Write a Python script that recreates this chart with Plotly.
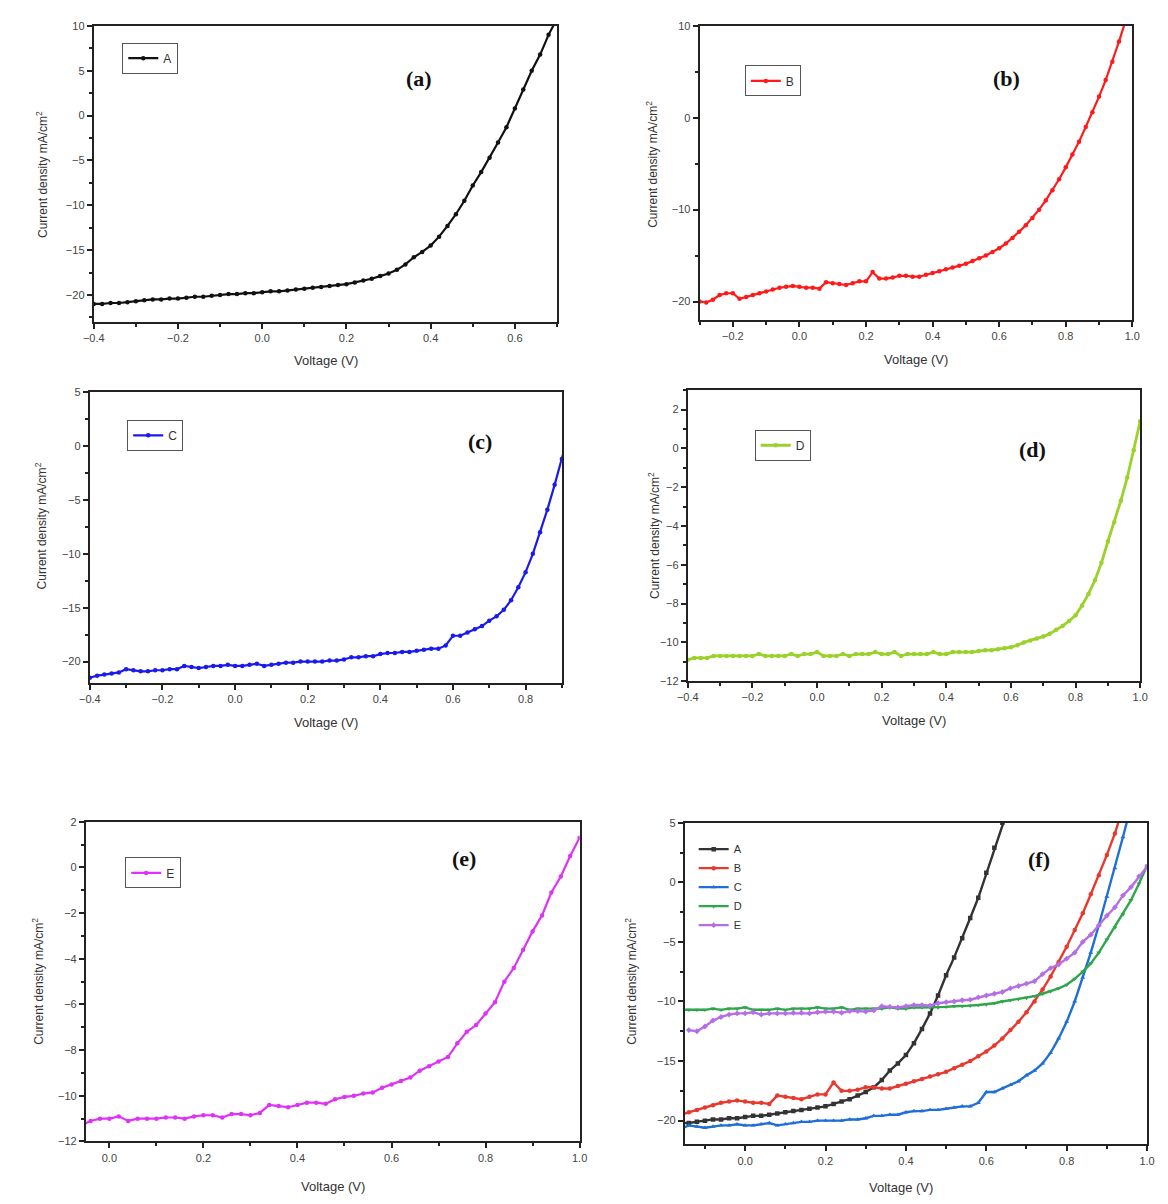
import plotly.graph_objects as go

# ---------------- data ----------------
V_A = [-0.40, -0.38, -0.36, -0.34, -0.32, -0.30, -0.28, -0.26, -0.24, -0.22, -0.20, -0.18, -0.16, -0.14,
       -0.12, -0.10, -0.08, -0.06, -0.04, -0.02, 0.00, 0.02, 0.04, 0.06, 0.08, 0.10, 0.12, 0.14, 0.16,
       0.18, 0.20, 0.22, 0.24, 0.26, 0.28, 0.30, 0.32, 0.34, 0.36, 0.38, 0.40, 0.42, 0.44, 0.46, 0.48,
       0.50, 0.52, 0.54, 0.56, 0.58, 0.60, 0.62, 0.64, 0.66, 0.68, 0.70]
J_A = [-21.0, -21.0, -20.9, -20.9, -20.8, -20.7, -20.6, -20.5, -20.5, -20.4, -20.4, -20.3, -20.2, -20.2,
       -20.1, -20.0, -19.9, -19.9, -19.8, -19.8, -19.7, -19.6, -19.6, -19.5, -19.4, -19.3, -19.2, -19.1, -19.0,
       -18.9, -18.8, -18.6, -18.4, -18.2, -17.9, -17.6, -17.2, -16.6, -15.8, -15.2, -14.5, -13.5, -12.3, -11.0, -9.5,
       -7.8, -6.3, -4.7, -3.0, -1.3, 0.8, 2.9, 5.0, 6.8, 9.0, 10.8]

V_B = [-0.30, -0.28, -0.26, -0.24, -0.22, -0.20, -0.18, -0.16, -0.14, -0.12, -0.10, -0.08, -0.06, -0.04,
       -0.02, 0.00, 0.02, 0.04, 0.06, 0.08, 0.10, 0.12, 0.14, 0.16, 0.18, 0.20, 0.22, 0.24, 0.26, 0.28,
       0.30, 0.32, 0.34, 0.36, 0.38, 0.40, 0.42, 0.44, 0.46, 0.48, 0.50, 0.52, 0.54, 0.56, 0.58, 0.60,
       0.62, 0.64, 0.66, 0.68, 0.70, 0.72, 0.74, 0.76, 0.78, 0.80, 0.82, 0.84, 0.86, 0.88, 0.90, 0.92,
       0.94, 0.96, 0.98, 1.00]
J_B = [-20.0, -20.1, -19.8, -19.3, -19.1, -19.1, -19.7, -19.5, -19.3, -19.1, -18.9, -18.7, -18.5, -18.4,
       -18.3, -18.4, -18.5, -18.5, -18.6, -17.9, -18.0, -18.1, -18.2, -18.0, -17.8, -17.8, -16.8, -17.5, -17.5, -17.4,
       -17.2, -17.2, -17.3, -17.3, -17.1, -16.9, -16.7, -16.5, -16.3, -16.1, -15.9, -15.6, -15.3, -15.0, -14.6, -14.2,
       -13.7, -13.1, -12.4, -11.7, -10.9, -10.0, -9.0, -7.9, -6.7, -5.4, -4.0, -2.6, -1.0, 0.6, 2.3, 4.1,
       6.1, 8.3, 10.6, 13.0]

V_C = [-0.40, -0.38, -0.36, -0.34, -0.32, -0.30, -0.28, -0.26, -0.24, -0.22, -0.20, -0.18, -0.16, -0.14,
       -0.12, -0.10, -0.08, -0.06, -0.04, -0.02, 0.00, 0.02, 0.04, 0.06, 0.08, 0.10, 0.12, 0.14, 0.16,
       0.18, 0.20, 0.22, 0.24, 0.26, 0.28, 0.30, 0.32, 0.34, 0.36, 0.38, 0.40, 0.42, 0.44, 0.46, 0.48,
       0.50, 0.52, 0.54, 0.56, 0.58, 0.60, 0.62, 0.64, 0.66, 0.68, 0.70, 0.72, 0.74, 0.76, 0.78, 0.80,
       0.82, 0.84, 0.86, 0.88, 0.90, 0.92, 0.94, 0.96]
J_C = [-21.5, -21.3, -21.2, -21.1, -21.0, -20.7, -20.8, -20.9, -20.9, -20.8, -20.8, -20.7, -20.7, -20.4,
       -20.5, -20.6, -20.5, -20.4, -20.4, -20.3, -20.4, -20.4, -20.3, -20.2, -20.4, -20.3, -20.2, -20.1, -20.1,
       -20.0, -20.0, -20.0, -20.0, -19.9, -19.9, -19.8, -19.6, -19.6, -19.5, -19.5, -19.3, -19.2, -19.2, -19.1, -19.1,
       -19.0, -18.9, -18.8, -18.8, -18.5, -17.6, -17.6, -17.3, -17.0, -16.7, -16.2, -15.8, -15.2, -14.3, -13.1, -11.7,
       -10.0, -8.0, -5.9, -3.6, -1.2, 1.2, 3.8, 6.4]

V_D = [-0.40, -0.38, -0.36, -0.34, -0.32, -0.30, -0.28, -0.26, -0.24, -0.22, -0.20, -0.18, -0.16, -0.14,
       -0.12, -0.10, -0.08, -0.06, -0.04, -0.02, 0.00, 0.02, 0.04, 0.06, 0.08, 0.10, 0.12, 0.14, 0.16,
       0.18, 0.20, 0.22, 0.24, 0.26, 0.28, 0.30, 0.32, 0.34, 0.36, 0.38, 0.40, 0.42, 0.44, 0.46, 0.48,
       0.50, 0.52, 0.54, 0.56, 0.58, 0.60, 0.62, 0.64, 0.66, 0.68, 0.70, 0.72, 0.74, 0.76, 0.78, 0.80,
       0.82, 0.84, 0.86, 0.88, 0.90, 0.92, 0.94, 0.96, 0.98, 1.00]
J_D = [-10.9, -10.8, -10.8, -10.8, -10.7, -10.7, -10.7, -10.7, -10.7, -10.7, -10.7, -10.6, -10.7, -10.7,
       -10.7, -10.7, -10.6, -10.7, -10.6, -10.6, -10.5, -10.7, -10.7, -10.7, -10.6, -10.7, -10.6, -10.6, -10.6,
       -10.5, -10.6, -10.6, -10.5, -10.7, -10.6, -10.6, -10.6, -10.6, -10.5, -10.6, -10.6, -10.5, -10.5, -10.5, -10.5,
       -10.45, -10.4, -10.4, -10.35, -10.3, -10.25, -10.15, -10.0, -9.9, -9.8, -9.7, -9.55, -9.35, -9.15, -8.9, -8.6,
       -8.1, -7.5, -6.8, -5.9, -4.8, -3.8, -2.7, -1.5, -0.1, 1.4]

V_E = [-0.14, -0.12, -0.10, -0.08, -0.06, -0.04, -0.02, 0.00, 0.02, 0.04, 0.06, 0.08, 0.10, 0.12, 0.14,
       0.16, 0.18, 0.20, 0.22, 0.24, 0.26, 0.28, 0.30, 0.32, 0.34, 0.36, 0.38, 0.40, 0.42, 0.44, 0.46,
       0.48, 0.50, 0.52, 0.54, 0.56, 0.58, 0.60, 0.62, 0.64, 0.66, 0.68, 0.70, 0.72, 0.74, 0.76, 0.78,
       0.80, 0.82, 0.84, 0.86, 0.88, 0.90, 0.92, 0.94, 0.96, 0.98, 1.00]
J_E = [-12.4, -12.5, -12.1, -11.6, -11.3, -11.1, -11.0, -11.0, -10.9, -11.1, -11.0, -11.0, -11.0, -10.95, -10.95,
       -11.0, -10.9, -10.85, -10.85, -10.95, -10.8, -10.8, -10.85, -10.75, -10.4, -10.45, -10.5, -10.4, -10.3, -10.3, -10.35,
       -10.15, -10.05, -10.0, -9.9, -9.85, -9.65, -9.5, -9.35, -9.2, -8.9, -8.7, -8.5, -8.3, -7.7, -7.2, -6.9,
       -6.4, -5.9, -5.0, -4.4, -3.6, -2.8, -2.1, -1.1, -0.4, 0.5, 1.3]

NAMES = ["A", "B", "C", "D", "E"]
PANEL_LABELS = ["(a)", "(b)", "(c)", "(d)", "(e)", "(f)"]
X_TITLE = "Voltage (V)"
Y_TITLE = "Current density mA/cm<sup>2</sup>"

SERIES = {"A": (V_A, J_A), "B": (V_B, J_B), "C": (V_C, J_C), "D": (V_D, J_D), "E": (V_E, J_E)}

# ---------------- styling / layout ----------------
W, H = 1152, 1188
OFF = 8  # body margin of the html page


def px(xp):
    return (xp - OFF) / W


def py(yp):
    return 1 - (yp - OFF) / H


SINGLE_COLORS = {"A": "#111111", "B": "#ff1a1a", "C": "#1a1aee", "D": "#9ad12a", "E": "#dd33f5"}
COMBO_COLORS = {"A": "#333333", "B": "#e8392e", "C": "#1f6fd6", "D": "#2fa64c", "E": "#b46ee6"}
COMBO_SYMBOLS = {"A": "square", "B": "circle", "C": "triangle-up", "D": "triangle-down", "E": "diamond"}

# plot-area boxes in reference pixels: (left, top, right, bottom)
panels = [
    dict(box=(84, 20, 555, 319), xr=[-0.4, 0.7], yr=[-23, 10], ydt=5, ymin=2.5,
         leg=(113, 37), lab=(415, 73), ytx=(32, 170), xtx=(320, 358)),
    dict(box=(700, 20, 1140, 317), xr=[-0.3, 1.0], yr=[-22, 10], ydt=10, ymin=5,
         leg=(746, 60), lab=(1012, 73), ytx=(652, 160), xtx=(920, 357)),
    dict(box=(80, 390, 560, 684), xr=[-0.4, 0.9], yr=[-22, 5], ydt=5, ymin=2.5,
         leg=(118, 418), lab=(477, 440), ytx=(30, 525), xtx=(320, 724)),
    dict(box=(688, 388, 1148, 682), xr=[-0.4, 1.0], yr=[-12, 3], ydt=2, ymin=1,
         leg=(756, 428), lab=(1038, 448), ytx=(653, 535), xtx=(918, 722)),
    dict(box=(76, 824, 578, 1147), xr=[-0.05, 1.0], yr=[-12, 2], ydt=2, ymin=1,
         leg=(116, 860), lab=(460, 861), ytx=(27, 985), xtx=(327, 1192)),
    dict(box=(685, 825, 1155, 1150), xr=[-0.15, 1.0], yr=[-22, 5], ydt=5, ymin=2.5,
         leg=(694, 837), lab=(1045, 862), ytx=(630, 985), xtx=(905, 1193)),
]

fig = go.Figure()
layout = dict(width=W, height=H, margin=dict(l=0, r=0, t=0, b=0),
              paper_bgcolor="white", plot_bgcolor="white", showlegend=True,
              font=dict(family="Liberation Sans, Arial", color="#333"),
              annotations=[])

AXC = "#222222"
for i, p in enumerate(panels):
    n = i + 1
    sfx = "" if n == 1 else str(n)
    l, t, r, b = p["box"]
    layout["xaxis" + sfx] = dict(
        domain=[px(l), px(r)], range=p["xr"], anchor="y" + sfx,
        dtick=0.2, tick0=0, tickformat=".1f",
        ticks="outside", ticklen=5, tickwidth=1.5, tickcolor=AXC,
        showline=True, linewidth=2, linecolor=AXC, mirror=True,
        showgrid=False, zeroline=False,
        tickfont=dict(size=11, color="#444"),
        minor=dict(dtick=0.1, tick0=0, ticks="outside", ticklen=3, tickcolor=AXC, showgrid=False),
    )
    layout["yaxis" + sfx] = dict(
        domain=[py(b), py(t)], range=p["yr"], anchor="x" + sfx,
        dtick=p["ydt"], tick0=0,
        ticks="outside", ticklen=5, tickwidth=1.5, tickcolor=AXC,
        showline=True, linewidth=2, linecolor=AXC, mirror=True,
        showgrid=False, zeroline=False,
        tickfont=dict(size=11, color="#444"),
        minor=dict(dtick=p["ymin"], tick0=0, ticks="outside", ticklen=3, tickcolor=AXC, showgrid=False),
    )
    leg_name = "legend" + sfx
    lx, ly = p["leg"]
    if n <= 5:
        layout[leg_name] = dict(x=px(lx), y=py(ly), xanchor="left", yanchor="top",
                                bgcolor="white", bordercolor="#555", borderwidth=1,
                                font=dict(size=12, color="#333"), itemwidth=30,
                                tracegroupgap=0, visible=True)
    else:
        layout[leg_name] = dict(x=px(lx), y=py(ly), xanchor="left", yanchor="top",
                                bgcolor="rgba(0,0,0,0)", borderwidth=0,
                                font=dict(size=11, color="#333"), itemwidth=30,
                                tracegroupgap=0, visible=True)
    # panel label
    layout["annotations"].append(dict(
        text="<b>%s</b>" % PANEL_LABELS[i], x=px(p["lab"][0]), y=py(p["lab"][1]),
        xref="paper", yref="paper", showarrow=False, xanchor="center", yanchor="middle",
        font=dict(family="Liberation Serif, Times New Roman", size=22, color="#111")))
    # axis titles
    layout["annotations"].append(dict(
        text=Y_TITLE, x=px(p["ytx"][0]), y=py(p["ytx"][1]), xref="paper", yref="paper",
        showarrow=False, textangle=-90, xanchor="center", yanchor="middle",
        font=dict(size=12, color="#333")))
    layout["annotations"].append(dict(
        text=X_TITLE, x=px(p["xtx"][0]), y=py(p["xtx"][1]), xref="paper", yref="paper",
        showarrow=False, xanchor="center", yanchor="middle",
        font=dict(size=13, color="#333")))

# single-sample panels (a)-(e)
for i, name in enumerate(NAMES):
    n = i + 1
    sfx = "" if n == 1 else str(n)
    v, j = SERIES[name]
    c = SINGLE_COLORS[name]
    fig.add_trace(go.Scatter(
        x=v, y=j, mode="lines+markers", name=name, showlegend=True,
        line=dict(color=c, width=2.2 if name != "D" else 2.8),
        marker=dict(symbol="circle", size=4.5, color=c),
        xaxis="x" + sfx, yaxis="y" + sfx, legend="legend" + sfx))

# combined panel (f)
for name in NAMES:
    v, j = SERIES[name]
    c = COMBO_COLORS[name]
    fig.add_trace(go.Scatter(
        x=v, y=j, mode="lines+markers", name=name, showlegend=True,
        line=dict(color=c, width=2.4),
        marker=dict(symbol=COMBO_SYMBOLS[name], size=4.5, color=c),
        xaxis="x6", yaxis="y6", legend="legend6"))

fig.update_layout(**layout)
fig.write_html("out.html")
